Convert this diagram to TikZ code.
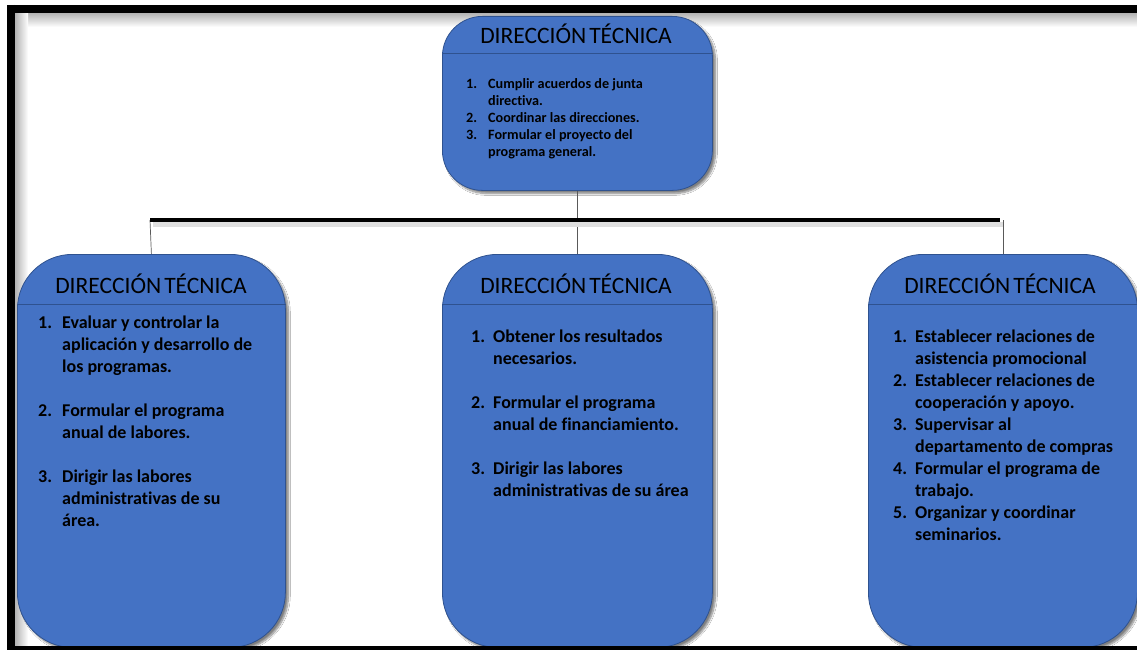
\documentclass[tikz,border=0pt]{standalone}
\usepackage{fontspec}
\setmainfont{Carlito}[Ligatures=NoCommon]
\usetikzlibrary{shadows.blur}
\definecolor{boxfill}{HTML}{4472C4}
\definecolor{boxline}{HTML}{2F528F}
\definecolor{stemcol}{HTML}{595959}
\newcommand{\dirtitle}{DIRECCIÓN\hspace{3pt}TÉCNICA}
\begin{document}
\begin{tikzpicture}[x=1pt,y=-1pt,
  box/.style={draw=boxline, line width=0.8pt, fill=boxfill, rounded corners=#1,
    inner sep=0pt, anchor=north west,
    blur shadow={shadow xshift=3pt, shadow yshift=-3pt, shadow blur steps=8, shadow opacity=50}},
  boxtitle/.style={anchor=base, inner sep=0pt, text=black, font=\fontsize{23.5}{28}\selectfont},
  divline/.style={draw=boxline, line width=0.8pt},
  itemsbig/.style={anchor=base west, inner sep=0pt, text=black, font=\bfseries\fontsize{18}{22}\selectfont},
  itemssmall/.style={anchor=base west, inner sep=0pt, text=black, font=\bfseries\fontsize{14.2}{17}\selectfont},
  stem/.style={draw=stemcol, line width=0.7pt},
  bar/.style={draw=black, line width=4pt}
]
\useasboundingbox (0,0) rectangle (1137,650);
\fill[white] (0,0) rectangle (1137,650);
% inner shadow of frame
\shade[top color=gray!60, bottom color=white] (15,13) rectangle (1137,27);
\shade[left color=gray!60, right color=white] (15,13) rectangle (28,650);

% connectors
\coordinate (barL) at (150,220);
\coordinate (barR) at (1000,220);

% boxes
\node[box=40pt, minimum width=270pt, minimum height=174pt] (top) at (442,16) {};
\node[box=55pt, minimum width=268pt, minimum height=393pt] (left) at (17,254) {};
\node[box=55pt, minimum width=270pt, minimum height=393pt] (mid) at (442,254) {};
\node[box=55pt, minimum width=269pt, minimum height=393pt] (right) at (868,254) {};

\draw[stem] (top.south) -- (mid.north);
\draw[stem] (barL) -- (left.north);
\draw[stem] (right.north |- barR) -- (right.north);
\draw[line width=5pt, gray!25] (153,224) -- (1003,224);
\draw[bar] (barL) -- (barR);

% dividers
\draw[divline] (top.west |- 0,53) -- (top.east |- 0,53);
\draw[divline] (left.west |- 0,304) -- (left.east |- 0,304);
\draw[divline] (mid.west |- 0,304) -- (mid.east |- 0,304);
\draw[divline] (right.west |- 0,304) -- (right.east |- 0,304);

% titles
\node[boxtitle] (toptitle) at (576,43.5) {\dirtitle};
\node[boxtitle] (lefttitle) at (151,293.5) {\dirtitle};
\node[boxtitle] (midtitle) at (576,293.5) {\dirtitle};
\node[boxtitle] (righttitle) at (1000,293.5) {\dirtitle};

% lists
\node[itemssmall] (toptext) at (466,89) {\begin{tabular}[t]{@{}p{22pt}@{}l@{}}
1. & Cumplir acuerdos de junta\\
   & directiva.\\
2. & Coordinar las direcciones.\\
3. & Formular el proyecto del\\
   & programa general.
\end{tabular}};

\node[itemsbig] (lefttext) at (38,328) {\begin{tabular}[t]{@{}p{24pt}@{}l@{}}
1. & Evaluar y controlar la\\
   & aplicación y desarrollo de\\
   & los programas.\\
   & \\
2. & Formular el programa\\
   & anual de labores.\\
   & \\
3. & Dirigir las labores\\
   & administrativas de su\\
   & área.
\end{tabular}};

\node[itemsbig] (midtext) at (471,342) {\begin{tabular}[t]{@{}p{22pt}@{}l@{}}
1. & Obtener los resultados\\
   & necesarios.\\
   & \\
2. & Formular el programa\\
   & anual de financiamiento.\\
   & \\
3. & Dirigir las labores\\
   & administrativas de su área
\end{tabular}};

\node[itemsbig] (righttext) at (893,342) {\begin{tabular}[t]{@{}p{22pt}@{}l@{}}
1. & Establecer relaciones de\\
   & asistencia promocional\\
2. & Establecer relaciones de\\
   & cooperación y apoyo.\\
3. & Supervisar al\\
   & departamento de compras\\
4. & Formular el programa de\\
   & trabajo.\\
5. & Organizar y coordinar\\
   & seminarios.
\end{tabular}};

% frame
\draw[line width=8pt] (7,9) -- (1137,9);
\draw[line width=8pt] (11,5) -- (11,650);
\draw[line width=5pt] (7,648.5) -- (1137,648.5);
\end{tikzpicture}
\end{document}
